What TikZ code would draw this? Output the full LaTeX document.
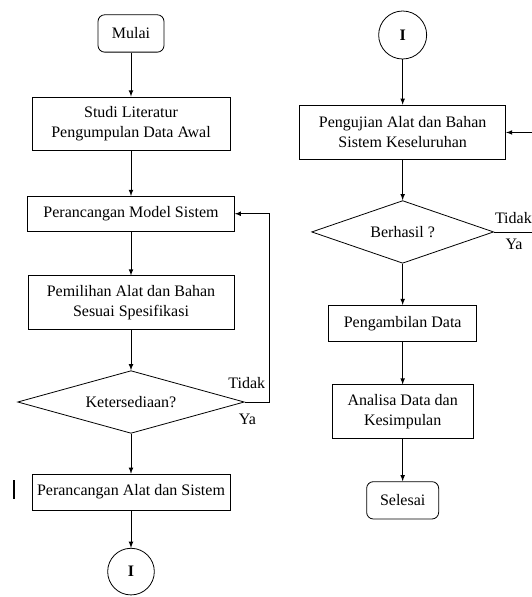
\documentclass[tikz,border=0pt]{standalone}
\usepackage{fontspec}
\setmainfont{Liberation Serif}
\usetikzlibrary{shapes.geometric, positioning}

\begin{document}
\begin{tikzpicture}[
    font=\fontsize{12}{15}\selectfont,
    proses/.style={rectangle, draw, line width=0.6pt, align=center, inner sep=2pt},
    terminal/.style={rectangle, draw, rounded corners=5pt, line width=0.6pt, minimum height=28pt},
    keputusan/.style={diamond, draw, line width=0.6pt, aspect=3.6, inner sep=0pt, minimum height=47pt},
    konektor/.style={circle, draw, line width=0.6pt, inner sep=0pt, font=\fontsize{12}{15}\selectfont\bfseries},
    panah/.style={-latex, line width=0.6pt}
]
    \useasboundingbox (0,0) rectangle (399pt,-447.75pt);

    % kolom kiri
    \node[terminal, minimum width=49.5pt] (mulai) at (98.25pt,-25.1pt) {Mulai};
    \node[proses, below=33pt of mulai, minimum width=148.5pt, minimum height=40pt] (studi) {Studi Literatur\\Pengumpulan Data Awal};
    \node[proses, below=34pt of studi, minimum width=155pt, minimum height=26pt] (model) {Perancangan Model Sistem};
    \node[proses, below=33pt of model, minimum width=154.5pt, minimum height=40pt] (pilih) {Pemilihan Alat dan Bahan\\Sesuai Spesifikasi};
    \node[keputusan, below=30.5pt of pilih, minimum width=170pt] (sedia) {Ketersediaan?};
    \node[proses, below=30pt of sedia, minimum width=148.5pt, minimum height=27pt] (rancang) {Perancangan Alat dan Sistem};
    \node[konektor, below=28pt of rancang, minimum size=35pt] (konA) {I};

    \node (tidakA) at ([shift={(1.5pt,14pt)}]sedia.east) {Tidak};
    \node (yaA) at ([shift={(2pt,-12.75pt)}]sedia.east) {Ya};

    % kolom kanan
    \node[konektor, minimum size=36pt] (konB) at (302pt,-26.25pt) {I};
    \node[proses, below=34pt of konB, minimum width=154.5pt, minimum height=41pt] (uji) {Pengujian Alat dan Bahan\\Sistem Keseluruhan};
    \node[keputusan, below=30pt of uji, minimum width=136.5pt] (hasil) {Berhasil ?};
    \node[proses, below=31pt of hasil, minimum width=111pt, minimum height=27pt] (ambil) {Pengambilan Data};
    \node[proses, below=32pt of ambil, minimum width=106pt, minimum height=40pt] (analisa) {Analisa Data dan\\Kesimpulan};
    \node[terminal, below=32pt of analisa, minimum width=54pt] (selesai) {Selesai};

    \node (tidakB) at ([shift={(14.5pt,10.5pt)}]hasil.east) {Tidak};
    \node (yaB) at ([shift={(15pt,-9pt)}]hasil.east) {Ya};

    \draw[panah] (mulai) -- (studi);
    \draw[panah] (studi) -- (model);
    \draw[panah] (model) -- (pilih);
    \draw[panah] (pilih) -- (sedia);
    \draw[panah] (sedia) -- (rancang);
    \draw[panah] (rancang) -- (konA);
    \draw[panah] (sedia.east) -- ++(18.75pt,0) |- (model.east);

    \draw[panah] (konB) -- (uji);
    \draw[panah] (uji) -- (hasil);
    \draw[panah] (hasil) -- (ambil);
    \draw[panah] (ambil) -- (analisa);
    \draw[panah] (analisa) -- (selesai);
    \draw[panah] (hasil.east) -- ++(31.5pt,0) |- (uji.east);

    \draw[line width=1.5pt] (10.5pt,-360pt) -- (10.5pt,-374pt);
\end{tikzpicture}
\end{document}
